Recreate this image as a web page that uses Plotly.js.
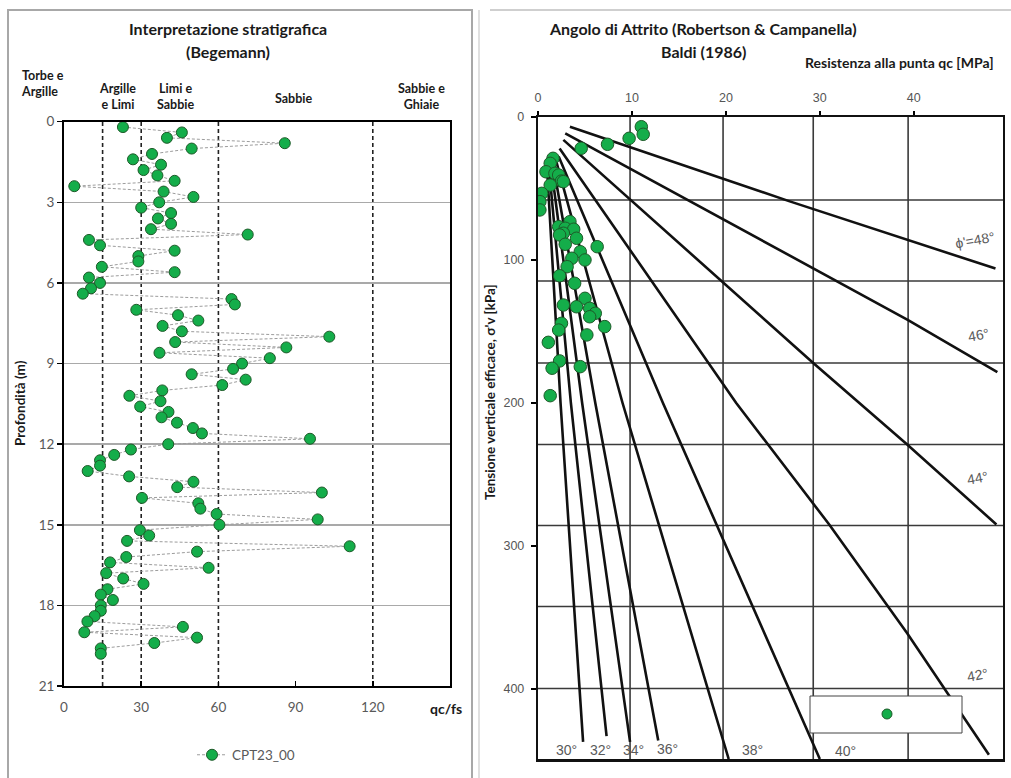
<!DOCTYPE html>
<html>
<head>
<meta charset="utf-8">
<script src="https://cdn.plot.ly/plotly-3.0.1.min.js"></script>
<style>
html,body{margin:0;padding:0;background:#fff;}
#chart{width:1011px;height:778px;}
</style>
</head>
<body>
<div id="chart"></div>
<script>
// ---------- Left chart: Begemann stratigraphic interpretation ----------
const depthM = [0.2,0.4,0.6,0.8,1.0,1.2,1.4,1.6,1.8,2.0,
  2.2,2.4,2.6,2.8,3.0,3.2,3.4,3.6,3.8,4.0,
  4.2,4.4,4.6,4.8,5.0,5.2,5.4,5.6,5.8,6.0,
  6.2,6.4,6.6,6.8,7.0,7.2,7.4,7.6,7.8,8.0,
  8.2,8.4,8.6,8.8,9.0,9.2,9.4,9.6,9.8,10.0,
  10.2,10.4,10.6,10.8,11.0,11.2,11.4,11.6,11.8,12.0,
  12.2,12.4,12.6,12.8,13.0,13.2,13.4,13.6,13.8,14.0,
  14.2,14.4,14.6,14.8,15.0,15.2,15.4,15.6,15.8,16.0,
  16.2,16.4,16.6,16.8,17.0,17.2,17.4,17.6,17.8,18.0,
  18.2,18.4,18.6,18.8,19.0,19.2,19.4,19.6,19.8];
const qcFs = [22.9,45.8,40.0,85.8,49.6,34.2,26.8,37.7,30.9,36.3,
  43.0,4.0,38.7,50.3,37.0,30.0,41.6,36.5,41.6,33.8,
  71.4,9.7,14.0,43.0,28.9,28.9,14.7,43.0,9.7,14.0,
  10.5,7.3,65.1,66.4,28.1,44.3,52.2,38.3,45.8,103.1,
  43.2,86.4,37.1,80.0,69.2,65.7,49.6,70.6,61.5,38.2,
  25.4,37.5,29.6,40.6,37.9,43.9,50.1,53.6,95.6,40.5,
  26.0,19.5,14.0,14.0,9.2,25.3,50.3,44.0,100.2,30.3,
  52.2,53.0,59.3,98.6,60.4,29.5,33.1,24.5,111.0,51.7,
  24.2,17.9,56.2,16.4,23.0,30.9,16.9,14.3,19.0,14.3,
  14.3,11.9,9.1,46.2,7.9,51.7,35.1,14.3,14.3];
const seriesName = 'CPT23_00';
const boundaryQcFs = [15, 30, 60, 120];
const soilClasses = ['Torbe e<br>Argille', 'Argille<br>e Limi', 'Limi e<br>Sabbie', 'Sabbie', 'Sabbie e<br>Ghiaie'];
const depthTicks = [0, 3, 6, 9, 12, 15, 18, 21];
const ratioTicks = [0, 30, 60, 90, 120];

// ---------- Right chart: friction angle (Robertson & Campanella) ----------
const qcMPa = [11.0,11.2,9.7,7.4,4.6,1.6,1.3,0.85,1.8,2.2,
  2.5,2.7,1.3,0.4,0.2,0.2,3.4,2.2,2.9,3.8,
  2.7,2.3,4.1,2.9,6.3,4.5,3.6,5.0,3.1,2.3,
  3.9,5.0,2.7,4.1,5.5,6.1,5.5,2.5,7.1,2.2,
  5.2,1.1,2.3,1.5,4.5,1.3];
const sigmaVkPa = [6.8,12.1,14.9,19.1,21.9,28.9,32.4,38.3,39.4,40.6,
  44.8,45.2,47.6,53.4,59.2,65.0,73.2,76.7,77.8,78.5,
  81.3,82.5,84.8,89.0,90.7,94.2,98.8,100,104.7,111,
  116.3,126.8,131.5,132.7,133.8,137.3,139.7,144.3,146.6,149,
  152.4,157.6,170.6,175.7,174.6,194.9];
const phiAngles = [30, 32, 34, 36, 38, 40, 42, 44, 46, 48];
const phiQc = [[1.0,2.4,4.8],[1.2,3.5,7.3],[1.4,4.7,9.8],[1.6,6.1,12.8],[1.9,9.0,20.3],
  [2.2,13.3,30.0],[2.3,21.1,31.0,39.3,48.0],[2.7,29.3,39.3,48.8],[2.9,39.4,48.9],[3.4,26.8,48.7]];
const phiSv = [[40,200,437],[38,200,433],[35,200,437],[33,200,436],[30,200,449],
  [27.7,200,449],[22,200,285,361,446],[16,172,229,285],[11.4,142,178.5],[6.8,59,106]];
const chartGridQc = [9.8, 19.7, 29.3, 39.4];
const chartGridSv = [58, 114.7, 172, 229, 285.7, 342.3, 399.7];
const qcTicks = [0, 10, 20, 30, 40];
const svTicks = [0, 100, 200, 300, 400];

// ---------- helpers ----------
const W = 1011, H = 778;
const px = x => x / W;
const py = y => 1 - y / H;
const green = '#14ad4a', greenEdge = '#1d5a28';
const boldFont = 'Lato, "Open Sans", sans-serif';

const traces = [];
traces.push({
  x: qcFs, y: depthM, xaxis: 'x', yaxis: 'y', type: 'scatter', mode: 'lines+markers',
  name: seriesName,
  line: {color: '#9c9c9c', width: 1, dash: '3px,2px'},
  marker: {size: 11, color: green, line: {color: greenEdge, width: 1}}
});
phiAngles.forEach((a, i) => {
  traces.push({
    x: phiQc[i], y: phiSv[i], xaxis: 'x2', yaxis: 'y2', type: 'scatter', mode: 'lines',
    name: a + '°', showlegend: false, line: {color: '#111', width: 2.6}
  });
});
traces.push({
  x: qcMPa, y: sigmaVkPa, xaxis: 'x2', yaxis: 'y2', type: 'scatter', mode: 'markers',
  name: seriesName, showlegend: false,
  marker: {size: 12.5, color: green, line: {color: greenEdge, width: 1}}
});

const shapes = [];
boundaryQcFs.forEach(v => shapes.push({
  type: 'line', xref: 'x', yref: 'y domain', x0: v, x1: v, y0: 0, y1: 1, layer: 'below',
  line: {color: '#222', width: 1.6, dash: '4px,3px'}
}));
chartGridQc.forEach(v => shapes.push({
  type: 'line', xref: 'x2', yref: 'y2 domain', x0: v, x1: v, y0: 0, y1: 1, layer: 'below',
  line: {color: '#3a3a3a', width: 1.6}
}));
chartGridSv.forEach(v => shapes.push({
  type: 'line', xref: 'x2 domain', yref: 'y2', x0: 0, x1: 1, y0: v, y1: v, layer: 'below',
  line: {color: '#3a3a3a', width: 1.6}
}));
// panel frames
shapes.push({type: 'rect', xref: 'paper', yref: 'paper', x0: px(8), x1: px(472), y0: -0.05, y1: py(10),
  line: {color: '#a8a8a8', width: 2}});
shapes.push({type: 'line', xref: 'paper', yref: 'paper', x0: px(490), x1: 1.01, y0: py(10), y1: py(10),
  line: {color: '#cfcfcf', width: 2}});
shapes.push({type: 'line', xref: 'paper', yref: 'paper', x0: px(479), x1: px(479), y0: -0.05, y1: py(10),
  line: {color: '#e0e0e0', width: 2}});
// legend key box of the right chart (no label text in the reference)
shapes.push({type: 'rect', xref: 'paper', yref: 'paper', x0: px(810), x1: px(962), y0: py(733), y1: py(696),
  layer: 'above', fillcolor: '#fff', line: {color: '#444', width: 1}});
shapes.push({type: 'circle', xref: 'paper', yref: 'paper', x0: px(882), x1: px(892), y0: py(719), y1: py(709),
  layer: 'above', fillcolor: green, line: {color: greenEdge, width: 1}});

const ann = [];
function txt(text, x, y, opts) {
  ann.push(Object.assign({text, xref: 'paper', yref: 'paper', x: px(x), y: py(y),
    showarrow: false, xanchor: 'center', yanchor: 'middle',
    font: {family: boldFont, size: 16, color: '#1a1a1a', weight: 'bold'}}, opts || {}));
}
// left titles
txt('Interpretazione stratigrafica', 228, 29);
txt('(Begemann)', 228, 51);
// soil class labels
const soilFont = {family: boldFont, size: 12.5, color: '#1a1a1a', weight: 'bold'};
txt(soilClasses[0], 19, 83, {xanchor: 'left', align: 'left', font: soilFont});
txt(soilClasses[1], 117, 96, {font: soilFont});
txt(soilClasses[2], 175, 96, {font: soilFont});
txt(soilClasses[3], 293, 98, {font: soilFont});
txt(soilClasses[4], 421, 96, {font: soilFont});
txt('Profondità (m)', 20, 403, {textangle: -90, font: {family: boldFont, size: 13.5, color: '#1a1a1a', weight: 'bold'}});
txt('qc/fs', 446, 708, {font: {family: boldFont, size: 14, color: '#1a1a1a', weight: 'bold'}});
// right titles
txt('Angolo di Attrito (Robertson &amp; Campanella)', 703, 29);
txt('Baldi (1986)', 703, 52);
txt('Resistenza alla punta qc [MPa]', 803, 63, {xanchor: 'left', font: {family: boldFont, size: 14, color: '#1a1a1a', weight: 'bold'}});
txt("Tensione verticale efficace, σ'v [kPa]", 490, 392, {textangle: -90, font: {family: boldFont, size: 13.5, color: '#1a1a1a', weight: 'bold'}});
// curve labels
const lblFont = {family: '"Liberation Sans", Arial, sans-serif', size: 14, color: '#5a5a5a'};
function clabel(text, x, y, ang) { txt(text, x, y, {font: lblFont, textangle: ang || 0}); }
clabel("ϕ'=" + phiAngles[9] + '°', 975, 240, -10);
clabel(phiAngles[8] + '°', 978, 335, -10);
clabel(phiAngles[7] + '°', 977, 478, -10);
clabel(phiAngles[6] + '°', 977, 675, -10);
clabel(phiAngles[0] + '°', 566, 750);
clabel(phiAngles[1] + '°', 600, 750);
clabel(phiAngles[2] + '°', 633, 750);
clabel(phiAngles[3] + '°', 667, 749);
clabel(phiAngles[4] + '°', 752, 750);
clabel(phiAngles[5] + '°', 845, 751);

const tickFontL = {family: 'Lato, sans-serif', size: 13.5, color: '#595959'};
const tickFontR = {family: '"Liberation Sans", Arial, sans-serif', size: 12.5, color: '#555'};

const layout = {
  width: W, height: H,
  margin: {l: 0, r: 0, t: 0, b: 0},
  paper_bgcolor: '#fff', plot_bgcolor: '#fff',
  hovermode: false,
  xaxis: {domain: [px(64), px(450)], range: [0, 150], anchor: 'y',
    tickmode: 'array', tickvals: ratioTicks, ticks: 'inside', ticklen: 5, tickwidth: 1.5, tickcolor: '#000',
    showline: true, linecolor: '#000', linewidth: 2, mirror: true,
    showgrid: false, zeroline: false, tickfont: tickFontL, ticklabelstandoff: 8},
  yaxis: {domain: [py(686), py(121.7)], range: [21, 0], anchor: 'x',
    tickmode: 'array', tickvals: depthTicks, ticks: 'outside', ticklen: 5, tickwidth: 1.5, tickcolor: '#000',
    showline: true, linecolor: '#000', linewidth: 2, mirror: true,
    showgrid: true, gridcolor: '#a9a9a9', gridwidth: 1.5, zeroline: false, tickfont: tickFontL},
  xaxis2: {domain: [px(538), px(1003)], range: [0, 49.5], anchor: 'y2', side: 'top',
    tickmode: 'array', tickvals: qcTicks, ticks: 'outside', ticklen: 4, tickwidth: 1.5, tickcolor: '#000',
    showline: true, linecolor: '#111', linewidth: 2.5, mirror: true,
    showgrid: false, zeroline: false, tickfont: tickFontR, ticklabelstandoff: 4},
  yaxis2: {domain: [py(759), py(117)], range: [449, 0], anchor: 'x2',
    tickmode: 'array', tickvals: svTicks, ticks: 'outside', ticklen: 5, tickwidth: 1.5, tickcolor: '#000',
    showline: true, linecolor: '#111', linewidth: 2.2, mirror: true,
    showgrid: false, zeroline: false, tickfont: tickFontR, ticklabelstandoff: 4},
  showlegend: true,
  legend: {x: px(192), xanchor: 'left', y: py(755), yanchor: 'middle', orientation: 'h',
    bgcolor: 'rgba(0,0,0,0)', font: {family: 'Lato, sans-serif', size: 13.5, color: '#595959'}},
  shapes: shapes,
  annotations: ann
};

Plotly.newPlot('chart', traces, layout, {staticPlot: true, displayModeBar: false});
</script>
</body>
</html>
